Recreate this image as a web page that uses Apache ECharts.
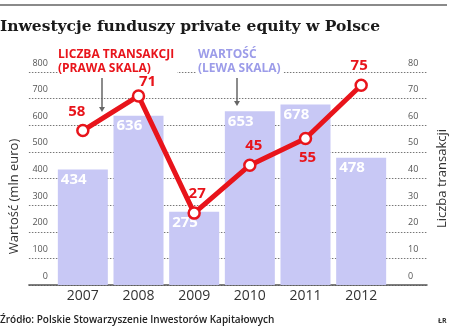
<!DOCTYPE html>
<html>
<head>
<meta charset="utf-8">
<script src="https://cdn.jsdelivr.net/npm/echarts@6.0.0/dist/echarts.min.js"></script>
<style>
  html, body { margin: 0; padding: 0; background: #fff; }
  #chart { width: 466px; height: 332px; }
</style>
</head>
<body>
<div id="chart"></div>
<script>
// data
const years = ["2007", "2008", "2009", "2010", "2011", "2012"];
const valueMlnEuro = [434, 636, 275, 653, 678, 478];   // bars, left scale
const dealCount = [58, 71, 27, 45, 55, 75];            // line, right scale
const leftTicks = { min: 0, max: 800, interval: 100 };
const rightTicks = { min: 0, max: 80, interval: 10 };

// label placement for the line points (style only)
const dealLabelPos = ["top", "top", "top", "top", "bottom", "top"];
const dealLabelOffset = [[-6, 0], [9, 5], [3, 0], [4, 0], [2, 0], [-2, 0]];

const RED = "#e8141b";
const BAR = "#c8c8f5";
const LAV = "#9c9ce9";
const FONT = "'Open Sans', 'Noto Sans', sans-serif";

const chart = echarts.init(document.getElementById("chart"), null, { renderer: "canvas" });

const lineData = dealCount.map((v, i) => ({
    value: v,
    label: { position: dealLabelPos[i], offset: dealLabelOffset[i] },
}));

const option = {
    animation: false,
    textStyle: { fontFamily: FONT },
    title: {
        text: "Inwestycje funduszy private equity w Polsce",
        left: 0,
        top: 19,
        padding: 0,
        textStyle: {
            fontFamily: "'DejaVu Serif', serif",
            fontWeight: "bold",
            fontSize: 15.5,
            color: "#1a1a1a",
        },
    },
    grid: [
        // background grid: gridlines, axis line, tick labels
        { left: 20, right: 39, top: 72, bottom: 47 },
        // data grid: bars and line
        { left: 55, right: 77, top: 72, bottom: 47 },
    ],
    xAxis: [
        {
            gridIndex: 0,
            type: "category",
            data: [""],
            axisLine: { show: true, lineStyle: { color: "#555", width: 1.5 } },
            axisTick: { show: false },
            axisLabel: { show: false },
        },
        {
            gridIndex: 1,
            type: "category",
            data: years,
            axisLine: { show: false },
            axisTick: { show: false },
            axisLabel: { fontSize: 14, color: "#333", margin: 4, fontFamily: FONT },
        },
    ],
    yAxis: [
        {
            gridIndex: 0,
            type: "value",
            position: "left",
            ...leftTicks,
            name: "Wartość (mln euro)",
            nameLocation: "middle",
            nameRotate: 90,
            nameGap: 4,
            nameTextStyle: { fontSize: 13, color: "#333", padding: [0, 0, 0, -36] },
            axisLine: { show: false },
            axisTick: { show: false },
            axisLabel: {
                inside: true, align: "right", margin: 19,
                verticalAlign: "bottom", lineHeight: 18,
                fontSize: 9, color: "#555",
            },
            splitLine: { lineStyle: { type: [1.5, 1.5], color: "#777", width: 1 } },
        },
        {
            gridIndex: 0,
            type: "value",
            position: "right",
            ...rightTicks,
            name: "Liczba transakcji",
            nameLocation: "middle",
            nameRotate: 90,
            nameGap: 8,
            nameTextStyle: { fontSize: 13, color: "#333" },
            axisLine: { show: false },
            axisTick: { show: false },
            axisLabel: {
                inside: true, align: "left", margin: 19,
                verticalAlign: "bottom", lineHeight: 18,
                fontSize: 9, color: "#555",
            },
            splitLine: { show: false },
        },
        { gridIndex: 1, type: "value", ...leftTicks, show: false },
        { gridIndex: 1, type: "value", ...rightTicks, show: false },
    ],
    series: [
        {
            name: "Wartość",
            type: "bar",
            xAxisIndex: 1,
            yAxisIndex: 2,
            data: valueMlnEuro,
            barWidth: 50,
            itemStyle: { color: BAR },
            label: {
                show: true,
                position: "insideTopLeft",
                distance: 3,
                color: "#fff",
                fontWeight: "bold",
                fontSize: 15,
                fontFamily: FONT,
            },
            z: 2,
        },
        {
            name: "Liczba transakcji",
            type: "line",
            xAxisIndex: 1,
            yAxisIndex: 3,
            data: lineData,
            symbol: "circle",
            symbolSize: 11,
            lineStyle: { color: RED, width: 5 },
            itemStyle: { color: "#fff", borderColor: RED, borderWidth: 2.5 },
            label: {
                show: true,
                distance: 5,
                color: RED,
                fontWeight: "bold",
                fontSize: 15,
                fontFamily: FONT,
            },
            z: 5,
        },
    ],
    graphic: [
        // top rule
        { type: "rect", shape: { x: 0, y: 4, width: 447, height: 2 }, style: { fill: "#8a8a8a" } },
        // legend notes
        {
            type: "text", left: 58, top: 48, z: 1,
            style: {
                text: "LICZBA TRANSAKCJI\n(PRAWA SKALA)",
                fill: RED, font: "bold 12px " + FONT, lineHeight: 14,
                backgroundColor: "#fff", padding: [0, 3, 0, 0],
            },
        },
        {
            type: "text", left: 196, top: 48, z: 1,
            style: {
                text: "WARTOŚĆ\n(LEWA SKALA)",
                fill: LAV, font: "bold 12px " + FONT, lineHeight: 14,
                backgroundColor: "#fff", padding: [0, 3, 0, 2],
            },
        },
        // pointer arrows
        { type: "line", shape: { x1: 102, y1: 78, x2: 102, y2: 110 }, style: { stroke: "#666", lineWidth: 1.5 }, z: 10 },
        { type: "polygon", shape: { points: [[99, 107], [105, 107], [102, 112]] }, style: { fill: "#666" }, z: 10 },
        { type: "line", shape: { x1: 237, y1: 78, x2: 237, y2: 104 }, style: { stroke: "#666", lineWidth: 1.5 }, z: 10 },
        { type: "polygon", shape: { points: [[234, 101], [240, 101], [237, 106]] }, style: { fill: "#666" }, z: 10 },
        // footer
        {
            type: "text", left: 0, top: 315,
            style: { text: "Źródło: Polskie Stowarzyszenie Inwestorów Kapitałowych", fill: "#222", font: "600 10px " + FONT },
        },
        {
            type: "text", left: 438, top: 317,
            style: { text: "ŁR", fill: "#333", font: "bold 7px " + FONT },
        },
    ],
};

chart.setOption(option);
window.addEventListener("resize", () => chart.resize());
</script>
</body>
</html>
